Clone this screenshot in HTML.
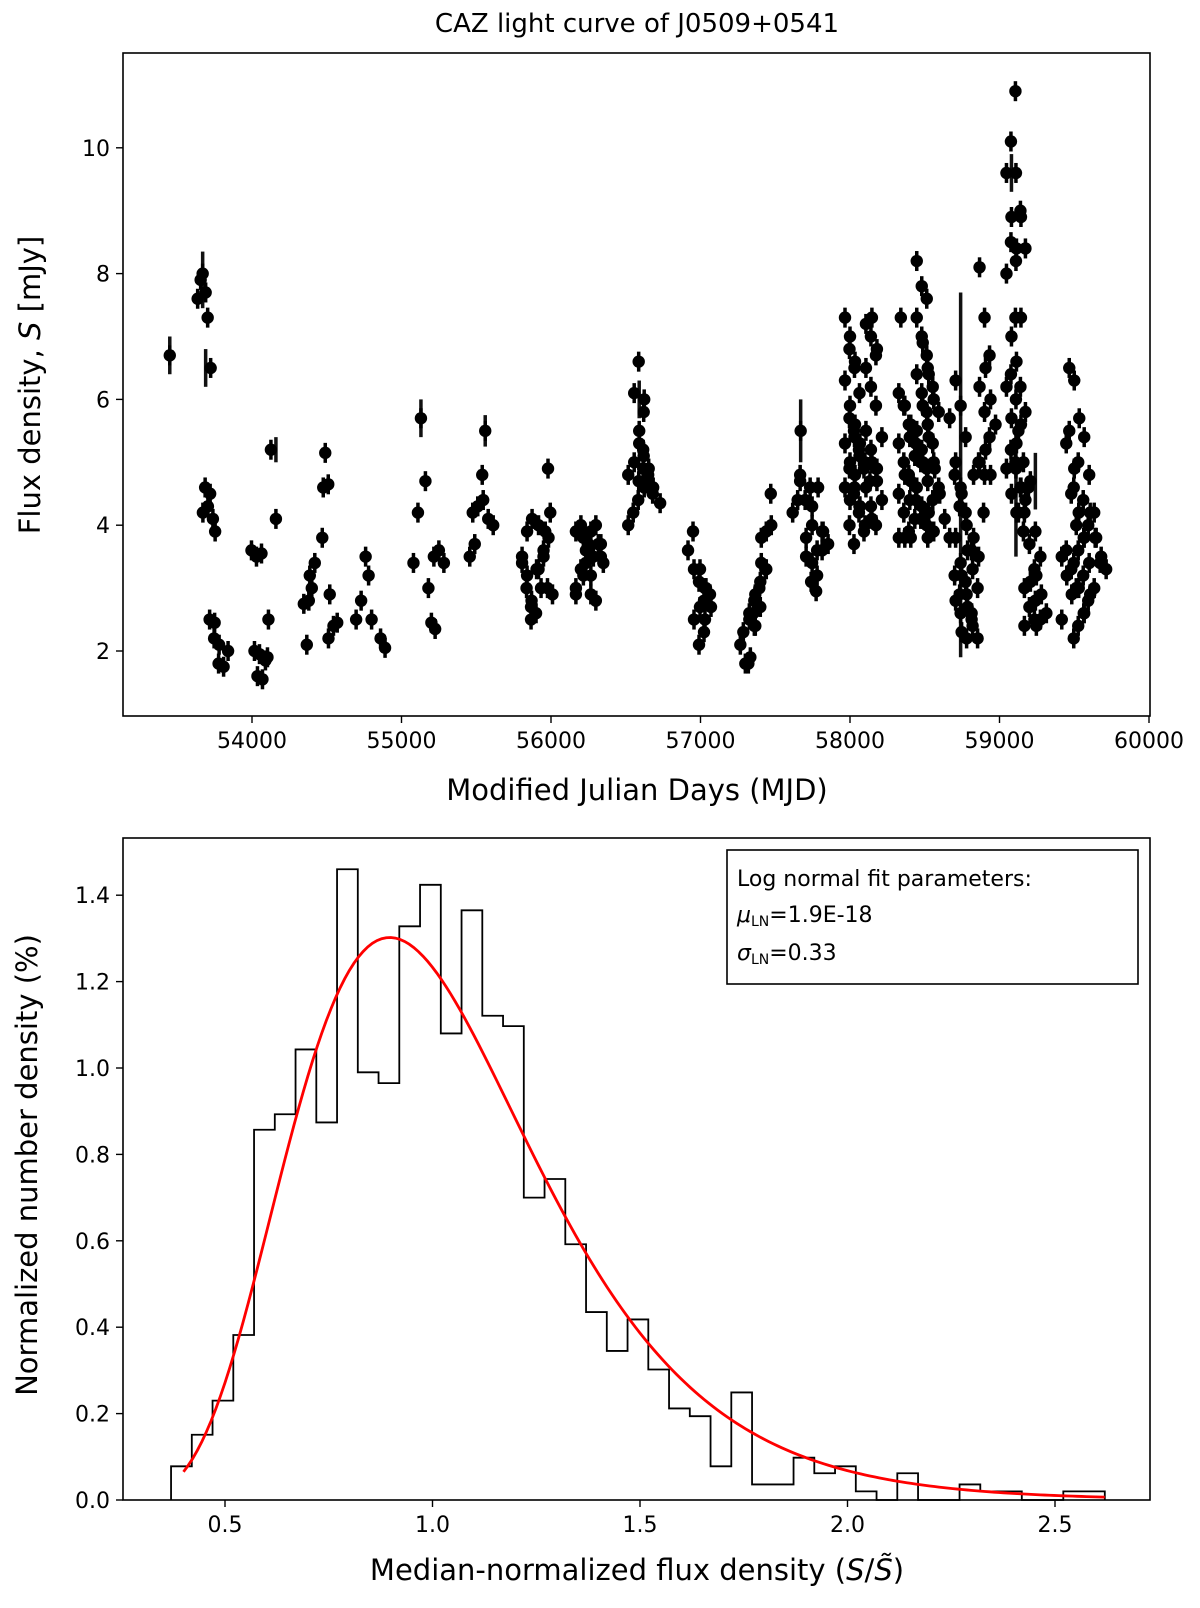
<!DOCTYPE html>
<html><head><meta charset="utf-8">
<style>
html,body{margin:0;padding:0;background:#fff;}
svg{display:block;font-family:"DejaVu Sans","Liberation Sans",sans-serif;}
</style></head>
<body>
<svg id="fig" width="1200" height="1608" viewBox="0 0 1200 1608">
  <text x="637" y="32" font-size="26" text-anchor="middle">CAZ light curve of J0509+0541</text>
  <g id="topG"></g>
  <rect x="123" y="53" width="1027" height="663" fill="none" stroke="#000" stroke-width="1.6"/>
  <text x="637" y="800" font-size="29" text-anchor="middle">Modified Julian Days (MJD)</text>
  <text transform="translate(40,385) rotate(-90)" font-size="29" text-anchor="middle">Flux density, <tspan font-style="italic">S</tspan> [mJy]</text>

  <g id="botG"></g>
  <rect x="123" y="838" width="1027" height="662" fill="none" stroke="#000" stroke-width="1.6"/>
  <text x="637" y="1580" font-size="29" text-anchor="middle">Median-normalized flux density (<tspan font-style="italic">S</tspan>/<tspan font-style="italic">S̃</tspan>)</text>
  <text transform="translate(37,1165) rotate(-90)" font-size="29" text-anchor="middle">Normalized number density (%)</text>
  <g>
    <rect x="727" y="850" width="411" height="134" fill="#fff" stroke="#000" stroke-width="1.6"/>
    <text x="737" y="886" font-size="22">Log normal fit parameters:</text>
    <text x="737" y="922" font-size="22"><tspan font-style="italic">μ</tspan><tspan font-size="14" dy="4">LN</tspan><tspan dy="-4">=1.9E-18</tspan></text>
    <text x="737" y="960" font-size="22"><tspan font-style="italic">σ</tspan><tspan font-size="14" dy="4">LN</tspan><tspan dy="-4">=0.33</tspan></text>
  </g>
</svg>
<script>
// ---------- Light curve data ----------
const groupMJD = [53450,53670,53690,53705,53720,53750,53780,53810,53840,54030,54050,54070,54090,54110,54160,
 54380,54400,54420,54470,54490,54510,54520,54545,54570,54730,54760,54780,54800,54860,54890,
 55080,55110,55130,55160,55180,55200,55225,55250,55490,55510,55540,55560,55580,
 55840,55870,55900,55950,55980,55995,56010,56200,56250,56300,56350,
 56550,56590,56620,56650,56680,56730,56950,56990,57030,57070,
 57300,57320,57360,57400,57440,57470,57650,57670,57700,57740,57780,57820,
 58000,58030,58060,58100,58140,58180,58340,58360,58400,58440,58480,58520,58560,58600,
 58700,58740,58780,58820,58860,58900,58940,59080,59110,59140,59160,59200,59240,59280,
 59450,59480,59500,59530,59560,59600,59640,59680];
const groupFlux = [[6.7],[7.6,8.0,7.3],[7.9,7.7,6.5],[4.2,4.3,4.1],[4.6,4.5,3.9],[2.5,2.45],[2.2,2.1],[1.8,1.75],[2.0],
 [3.6,3.5,3.55],[2.0,1.95],[1.6,1.55,1.9],[1.85],[2.5],[5.2,4.1],
 [2.75,2.8],[2.1,3.0],[3.2,3.4],[3.8],[5.15],[4.6,4.65],[2.9],[2.2,2.4],[2.45],[2.5,2.8],[3.5],[3.2],[2.5],[2.2],[2.05],
 [3.4],[4.2],[5.7],[4.7],[3.0],[2.45],[2.35],[3.5,3.6,3.4],[3.5,3.7],[4.2,4.3],[4.8],[5.5],[4.4,4.1,4.0],
 [3.4,3.9,4.1,3.5,3.2],[3.0,2.8,3.3],[2.5,2.6,3.0,2.7],[3.3,3.6,3.8,4.0,3.5],[4.9],[3.9,4.2],[3.0,2.9],
 [3.0,3.3,3.6,3.9,4.0,3.4,2.9],[3.2,3.7,3.5,3.8],[2.9,2.8,3.5,3.9,4.0,3.7,3.2],[3.7,3.4],
 [4.0,4.2,4.4,4.8],[5.0,5.5,6.0,6.1,5.3,4.6],[6.6,5.8,4.9,4.7,5.1],[5.2,4.8,4.6,4.9],[4.7,4.5],[4.35],
 [3.6,3.9],[3.3,3.1,2.8,2.5,2.1,2.3],[3.3,3.0,2.9,2.7,2.5],[3.0,2.7],
 [2.1,1.8,1.9],[2.3,1.8,2.6],[2.5,2.8,3.0,2.6,2.4],[2.9,3.1,3.3,2.4,2.7],[3.4,3.9,4.0,3.8,3.3],[4.5],
 [4.2,4.4],[5.5],[4.7,4.4,4.6,4.8],[3.5,3.1,2.95,3.8],[4.0,3.6,3.9,3.4,3.2,3.6,4.3],[4.6,3.9,3.7],
 [7.3,7.0,6.6,6.3,5.9,5.6,5.3,5.0,4.8,4.6,4.4],[6.8,6.5,6.1,5.7,5.4,5.1,4.9,4.6,4.3,4.0],[5.5,5.2,4.9,4.5,4.2,3.9,3.7],
 [5.3,5.0,4.7,4.3,4.0],[7.2,7.0,6.7,6.5,6.2,5.9,5.5,5.2,4.9,4.6,4.3,4.0],[7.3,6.8,5.4,5.0,4.7,4.4,4.1,4.9],[7.3],
 [6.1,5.9,5.6,5.3,5.0,4.8,4.5,4.2,3.9,3.8],[5.9,5.4,5.1,4.8,4.4,4.1,3.8],[5.6,5.3,5.0,4.7,4.4,4.1,3.8],
 [8.2,7.8,7.6,7.3,7.0,6.7,6.4,6.1,5.8,5.5,5.2,4.9,4.6,4.3,4.0],[6.9,6.5,6.2,5.9,5.6,5.3,5.0,4.7,4.4,4.1,3.8],
 [6.4,6.0,5.8,5.4,5.0,4.6,4.2,3.9],[4.9,4.5,4.1],
 [5.7,4.8,4.3,3.8,3.2,2.9],[6.3,5.9,5.4,5.0,4.6,4.2,3.8,3.4,3.1,2.8,2.6],[4.5,4.0,3.6,3.2,2.9,2.6,2.3,2.2,2.5],
 [3.6,3.3,3.0,2.7,2.4,2.2],[4.8,5.0,4.2,3.8,3.5],[8.1,7.3,6.7,6.2,5.8,5.4,5.0,4.8],[6.5,6.0,5.6,5.2,4.8],
 [9.6,8.9,8.4,8.0,7.0,6.6,6.2,5.7,5.3,4.9,4.5,4.2],[10.1,9.6,8.9,8.5,8.2,7.3,6.4,6.0,5.6,5.2,4.9,4.6],
 [10.9,9.0,8.4,7.3,6.2,5.8,5.0,4.6,4.4],[5.5,5.0,4.6,4.2,3.9],[4.2,3.7,3.3,3.0,2.7,2.5,2.4],[4.7,3.9,3.5,3.1,2.8,2.5],
 [3.2,2.9,2.6,2.4],[3.5,3.2,2.9,2.5],[5.3,4.5,4.0,3.6,3.3,3.0],[6.5,6.3,5.7,5.5,4.9],[4.6,4.2,3.8,3.4,3.0,2.6,2.2],
 [5.0,4.4,4.0,3.6,3.2,2.8,2.4],[5.4,4.8,4.2,3.8,3.4,3.0,2.6],[4.2,3.8,3.4,2.9],[3.8,3.5,3.3]];
const bigErrMJD = [53450,53690,53670,54160,55130,55560,56590,57670,58740,59080,59110,59240];
const bigErrFlux = [6.7,6.5,7.9,5.2,5.7,5.5,6.0,5.5,4.8,9.6,4.5,4.7];
const bigErrSize = [0.3,0.3,0.45,0.2,0.3,0.25,0.3,0.5,2.9,0.3,1.0,0.45];
const mjdTicks = [54000,55000,56000,57000,58000,59000,60000];
const fluxTicks = [2,4,6,8,10];

// ---------- Histogram data ----------
const binStart = 0.37, binWidth = 0.05;
const histValues = [0.078,0.151,0.23,0.382,0.857,0.893,1.043,0.874,1.46,0.99,0.965,1.328,1.424,1.08,1.365,1.121,1.097,0.70,0.743,0.592,0.435,0.345,0.418,0.302,0.212,0.194,0.078,0.249,0.036,0.036,0.098,0.062,0.078,0.02,0.0,0.062,0.0,0.0,0.036,0.02,0.02,0.0,0.0,0.02,0.02];
const fitMu = [0.0];
const fitSigma = [0.33];
const fitScale = [1.02];
const fitRange = [0.40, 2.62];
const ratioTicks = [0.5,1.0,1.5,2.0,2.5];
const densTicks = [0.0,0.2,0.4,0.6,0.8,1.0,1.2,1.4];

const NS = "http://www.w3.org/2000/svg";
function mk(tag, attrs, parent){const e=document.createElementNS(NS,tag);for(const k in attrs)e.setAttribute(k,attrs[k]);parent.appendChild(e);return e;}

// ---- top axes ----
const X1 = m => 252 + (m - 54000) * 0.1495;
const Y1 = f => 651 - (f - 2) * 62.9;
const topG = document.getElementById('topG');
mjdTicks.forEach(t=>{
  const l=mk('line',{x1:X1(t),x2:X1(t),y1:716,y2:723,stroke:'#000','stroke-width':1.4},topG);
  
  
  const tx=mk('text',{x:X1(t),y:748,'font-size':22,'text-anchor':'middle'},topG);
  tx.textContent=t;
  
  
});
fluxTicks.forEach(t=>{
  const l=mk('line',{x1:116,x2:123,y1:Y1(t),y2:Y1(t),stroke:'#000','stroke-width':1.4},topG);
  
  
  const tx=mk('text',{x:110,y:Y1(t)+8,'font-size':22,'text-anchor':'end'},topG);
  tx.textContent=t;
  
  
});
bigErrMJD.forEach((m,i)=>{
  const l=mk('line',{x1:X1(m),x2:X1(m),y1:Y1(bigErrFlux[i]-bigErrSize[i]),y2:Y1(bigErrFlux[i]+bigErrSize[i]),stroke:'#111','stroke-width':3.5},topG);
  
  
});
groupMJD.forEach((m,i)=>{
  const n=groupFlux[i].length;
  groupFlux[i].forEach((f,j)=>{
    const xo = n>1 ? ((j%3)-1)*5 : 0;
    const x=X1(m)+xo, y=Y1(f);
    const eb=mk('line',{x1:x,x2:x,y1:y-10,y2:y+10,stroke:'#000','stroke-width':3.5},topG);
    
    
    const c=mk('circle',{cx:x,cy:y,r:6.2,fill:'#000'},topG);
    
    
  });
});

// ---- bottom axes ----
const X2 = v => 225 + (v - 0.5) * 415;
const Y2 = v => 1500 - v * 432;
const botG = document.getElementById('botG');
ratioTicks.forEach(t=>{
  const l=mk('line',{x1:X2(t),x2:X2(t),y1:1500,y2:1507,stroke:'#000','stroke-width':1.4},botG);
  
  
  const tx=mk('text',{x:X2(t),y:1532,'font-size':22,'text-anchor':'middle'},botG);
  tx.textContent=t.toFixed(1);
  
  
});
densTicks.forEach(t=>{
  const l=mk('line',{x1:116,x2:123,y1:Y2(t),y2:Y2(t),stroke:'#000','stroke-width':1.4},botG);
  
  
  const tx=mk('text',{x:110,y:Y2(t)+8,'font-size':22,'text-anchor':'end'},botG);
  tx.textContent=t.toFixed(1);
  
  
});
let d='M'+X2(binStart)+','+Y2(0);
histValues.forEach((v,i)=>{
  const a=binStart+i*binWidth, b=a+binWidth;
  d+=' L'+X2(a)+','+Y2(v)+' L'+X2(b)+','+Y2(v);
});
d+=' L'+X2(binStart+histValues.length*binWidth)+','+Y2(0);
const hp=mk('path',{d:d,fill:'none',stroke:'#000','stroke-width':1.8},botG);


let fd='';
for(let k=0;k<=200;k++){
  const x=fitRange[0]+(fitRange[1]-fitRange[0])*k/200;
  const s=fitSigma[0], mu=fitMu[0];
  const p=fitScale[0]*Math.exp(-Math.pow(Math.log(x)-mu,2)/(2*s*s))/(x*s*Math.sqrt(2*Math.PI));
  fd+=(k?' L':'M')+X2(x).toFixed(2)+','+Y2(p).toFixed(2);
}
const fp=mk('path',{d:fd,fill:'none',stroke:'#ff0000','stroke-width':2.8},botG);


</script>
</body></html>
